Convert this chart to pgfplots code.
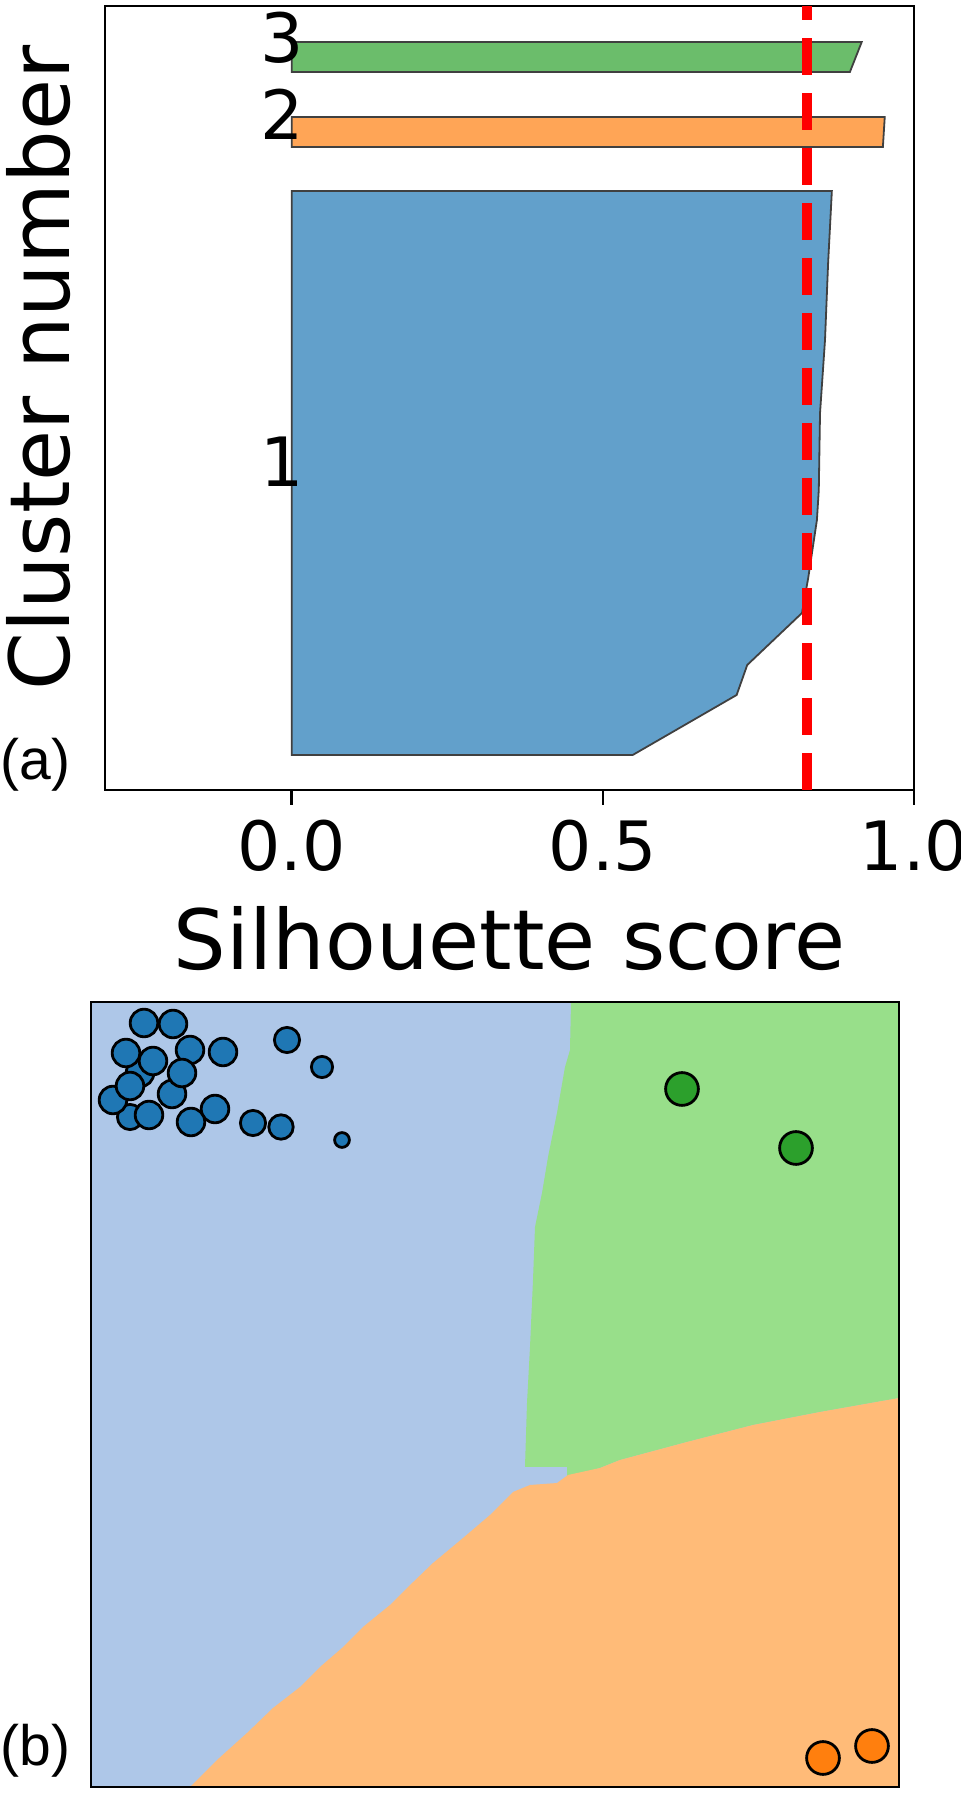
\documentclass[border=0pt]{standalone}
\usepackage{fontspec}
\setmainfont{DejaVu Sans}
\newfontfamily\arialfont{Liberation Sans}
\usepackage{pgfplots}
\pgfplotsset{compat=1.18}

\definecolor{cA}{RGB}{98,160,203}
\definecolor{cB}{RGB}{255,165,86}
\definecolor{cC}{RGB}{107,189,107}
\definecolor{bgA}{RGB}{174,199,232}
\definecolor{bgB}{RGB}{255,187,120}
\definecolor{bgC}{RGB}{152,223,138}
\definecolor{mA}{RGB}{31,119,180}
\definecolor{mB}{RGB}{255,127,14}
\definecolor{mC}{RGB}{44,160,44}

\pgfplotstableread{
x y r
49 714 6.9
39 670 6.3
22 687 6.9
35 734 6.9
99 737 6.9
82 763 6.9
53 764 6.9
62 726 6.9
81 693 6.9
91 714 6.9
39 701 6.9
58 672 6.9
124 678 6.9
100 665 6.9
132 735 6.9
162 664 6.3
190 660 6.1
196 747 6.3
231 720 5.3
251 647 3.7
}\bluepts

\begin{document}
\begin{tikzpicture}
\path[use as bounding box] (0,0) rectangle (480pt,897pt);

\begin{axis}[
  at={(52.5pt,502pt)}, anchor=south west,
  scale only axis, width=404.5pt, height=392pt,
  xmin=-0.3, xmax=1.0, ymin=0, ymax=784,
  axis line style={line width=1pt, black},
  xtick={0,0.5,1}, ytick=\empty,
  xtick pos=left, tick align=outside, major tick length=7.5pt,
  tick style={line width=1.2pt, black},
  /pgf/number format/assume math mode=true,
  xticklabel={\pgfmathprintnumber[fixed,precision=1,zerofill]{\tick}},
  xticklabel style={font=\fontsize{34}{40}\selectfont, anchor=north, inner sep=0pt, yshift=-7.5pt},
  xlabel={Silhouette score},
  xlabel style={font=\fontsize{41.5}{48}\selectfont, at={(axis description cs:0.5,-0.2296)}, anchor=base, inner sep=0pt},
  ylabel={Cluster number},
  ylabel style={font=\fontsize{41.5}{48}\selectfont, at={(axis description cs:-0.0433,0.538)}, anchor=base, inner sep=0pt},
]
\addplot[fill=cA, draw=black!75, line width=0.9pt] coordinates {
  (0,35) (0.548,35) (0.715,95) (0.732,125) (0.820,177) (0.830,212)
  (0.844,270) (0.847,300) (0.849,377) (0.857,450) (0.862,527) (0.868,599) (0,599)
} -- cycle;
\addplot[fill=cB, draw=black!75, line width=0.9pt] coordinates {
  (0,643) (0.950,643) (0.953,673) (0,673)
} -- cycle;
\addplot[fill=cC, draw=black!75, line width=0.9pt] coordinates {
  (0,718) (0.897,718) (0.916,748) (0,748)
} -- cycle;
\addplot[red, line width=5pt, dash pattern=on 18.5pt off 9pt] coordinates {(0.828,0) (0.828,784)};
\node[anchor=base west, inner sep=0pt, font=\fontsize{34}{40}\selectfont] at (axis cs:-0.05,303) {1};
\node[anchor=base west, inner sep=0pt, font=\fontsize{34}{40}\selectfont] at (axis cs:-0.05,650) {2};
\node[anchor=base west, inner sep=0pt, font=\fontsize{34}{40}\selectfont] at (axis cs:-0.05,727) {3};
\end{axis}

\node[anchor=base west, inner sep=0pt, font=\arialfont\fontsize{28.5}{34}\selectfont] at (0pt,507pt) {(a)};
\node[anchor=base west, inner sep=0pt, font=\arialfont\fontsize{28.5}{34}\selectfont] at (0pt,14pt) {(b)};

\begin{axis}[
  at={(45.5pt,3.5pt)}, anchor=south west,
  scale only axis, width=404pt, height=392.5pt,
  xmin=0, xmax=808, ymin=0, ymax=785,
  xtick=\empty, ytick=\empty, axis on top,
  axis line style={line width=1pt, black},
]
\addplot[fill=bgA, draw=none] coordinates {(0,0) (808,0) (808,785) (0,785)} -- cycle;
\addplot[fill=bgC, draw=none] coordinates {
  (480,785) (479,737) (474,720) (466,674) (457,630) (451,594) (444,560)
  (442,507) (439,440) (436,384) (434,320) (476,320) (476,310) (509,319) (529,327)
  (596,345) (662,362) (729,375) (808,389) (808,785)
} -- cycle;
\addplot[fill=bgB, draw=none] coordinates {
  (808,389) (729,375) (662,362) (596,345) (529,327) (509,319) (477,312)
  (466,304) (439,302) (422,295) (399,272) (372,249) (342,224) (316,199)
  (299,182) (272,160) (251,139) (229,120) (209,100) (182,79) (156,54)
  (126,27) (101,2) (99,0) (808,0)
} -- cycle;
\addplot[scatter, only marks, mark=*,
  scatter/use mapped color={draw=black, fill=mA},
  visualization depends on={\thisrow{r} \as \rr},
  scatter/@pre marker code/.append style={/tikz/mark size=\rr},
  mark options={line width=1.4pt}] table[x=x, y=y] {\bluepts};
\addplot[only marks, mark=*, mark size=8.2pt, mark options={draw=black, fill=mC, line width=1.4pt}]
  coordinates {(591,698) (705,639)};
\addplot[only marks, mark=*, mark size=8.2pt, mark options={draw=black, fill=mB, line width=1.4pt}]
  coordinates {(732,29) (781,41)};
\end{axis}
\end{tikzpicture}
\end{document}
